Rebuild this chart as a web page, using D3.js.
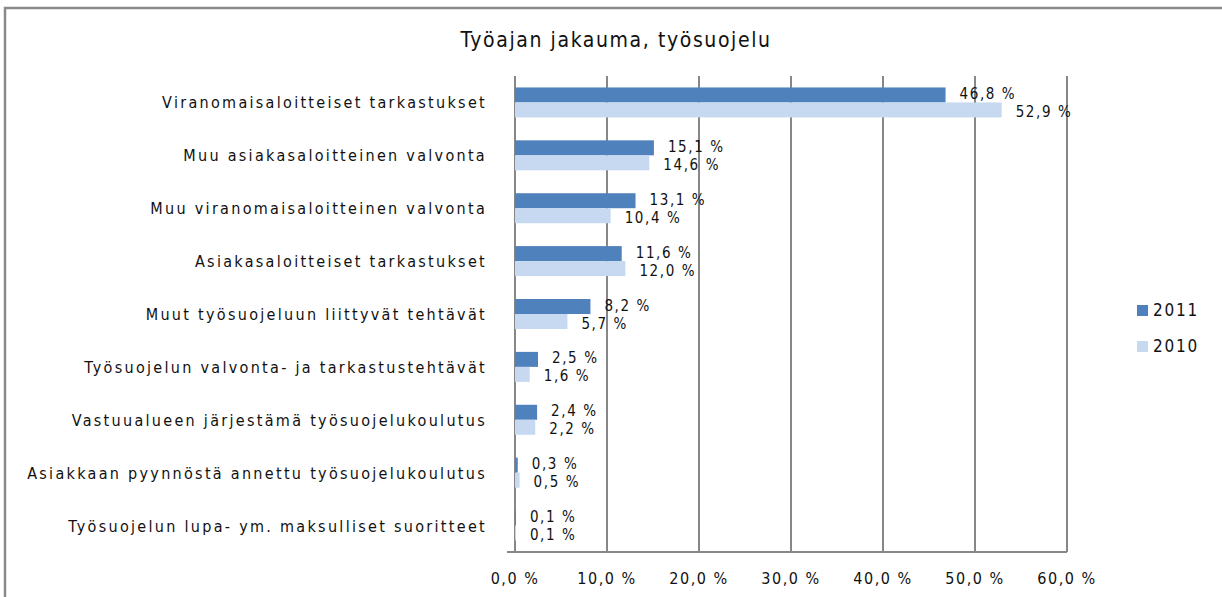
<!DOCTYPE html>
<html>
<head>
<meta charset="utf-8">
<script src="https://cdn.jsdelivr.net/npm/d3@7"></script>
<style>
  body { margin: 0; background: #fff; }
  svg text { font-family: "Liberation Sans Narrow", "DejaVu Sans Condensed", "Liberation Sans", sans-serif; fill: #111; }
</style>
</head>
<body>
<div id="chart"></div>
<script>
const categories = [
  'Viranomaisaloitteiset tarkastukset',
  'Muu asiakasaloitteinen valvonta',
  'Muu viranomaisaloitteinen valvonta',
  'Asiakasaloitteiset tarkastukset',
  'Muut työsuojeluun liittyvät tehtävät',
  'Työsuojelun valvonta- ja tarkastustehtävät',
  'Vastuualueen järjestämä työsuojelukoulutus',
  'Asiakkaan pyynnöstä annettu työsuojelukoulutus',
  'Työsuojelun lupa- ym. maksulliset suoritteet'
];
const series = ['2011', '2010'];
const values2011 = [46.8, 15.1, 13.1, 11.6, 8.2, 2.5, 2.4, 0.3, 0.1];
const values2010 = [52.9, 14.6, 10.4, 12.0, 5.7, 1.6, 2.2, 0.5, 0.1];
const xTicks = [0, 10, 20, 30, 40, 50, 60];
const colors = { '2011': '#4f81bd', '2010': '#c6d9f1' };

const width = 1222, height = 597;
const plot = { left: 515, right: 1067, top: 76, bottom: 552 };

const svg = d3.select('#chart').append('svg')
  .attr('width', width)
  .attr('height', height);

// outer chart border
svg.append('rect')
  .attr('x', 5).attr('y', 8)
  .attr('width', 1240).attr('height', 620)
  .attr('fill', 'none')
  .attr('stroke', '#8a8a8a')
  .attr('stroke-width', 2.5);

svg.append('text')
  .attr('x', 616).attr('y', 47)
  .attr('text-anchor', 'middle')
  .attr('font-size', 21)
  .attr('letter-spacing', 1.6)
  .text('Työajan jakauma, työsuojelu');

const x = d3.scaleLinear().domain([0, 60]).range([plot.left, plot.right]);
const y = d3.scaleBand().domain(categories).range([plot.top, plot.bottom]);
const groupH = 30;
const ySub = d3.scaleBand().domain(series).range([0, groupH]);

// gridlines
svg.append('g')
  .selectAll('line')
  .data(xTicks)
  .join('line')
  .attr('x1', d => x(d)).attr('x2', d => x(d))
  .attr('y1', plot.top).attr('y2', plot.bottom)
  .attr('stroke', '#878787')
  .attr('stroke-width', 2);

// bottom axis line
svg.append('line')
  .attr('x1', plot.left - 8).attr('x2', plot.right)
  .attr('y1', plot.bottom).attr('y2', plot.bottom)
  .attr('stroke', '#878787')
  .attr('stroke-width', 2);

const fmt = v => d3.format('.1f')(v).replace('.', ',') + ' %';

const rows = categories.map((c, i) => ({ cat: c, vals: { '2011': values2011[i], '2010': values2010[i] } }));

const groups = svg.append('g')
  .selectAll('g')
  .data(rows)
  .join('g')
  .attr('transform', d => `translate(0,${y(d.cat) + (y.bandwidth() - groupH) / 2})`);

groups.selectAll('rect')
  .data(d => series.map(s => ({ s, v: d.vals[s] })))
  .join('rect')
  .attr('x', x(0))
  .attr('y', d => ySub(d.s))
  .attr('width', d => x(d.v) - x(0))
  .attr('height', ySub.bandwidth())
  .attr('fill', d => colors[d.s]);

groups.selectAll('text.val')
  .data(d => series.map(s => ({ s, v: d.vals[s] })))
  .join('text')
  .attr('class', 'val')
  .attr('x', d => x(d.v) + 14)
  .attr('y', d => ySub(d.s) + ySub.bandwidth() / 2 + (d.s === '2011' ? 4 : 7))
  .attr('font-size', 15)
  .attr('letter-spacing', 1.6)
  .text(d => fmt(d.v));

// category labels
svg.append('g')
  .selectAll('text')
  .data(categories)
  .join('text')
  .attr('x', 487)
  .attr('y', d => y(d) + y.bandwidth() / 2 + 6)
  .attr('text-anchor', 'end')
  .attr('font-size', 16)
  .attr('letter-spacing', 2.3)
  .text(d => d);

// x tick labels
svg.append('g')
  .selectAll('text')
  .data(xTicks)
  .join('text')
  .attr('x', d => x(d))
  .attr('y', 584)
  .attr('text-anchor', 'middle')
  .attr('font-size', 16)
  .attr('letter-spacing', 1.5)
  .text(d => fmt(d));

// legend
const legend = svg.append('g')
  .selectAll('g')
  .data(series)
  .join('g')
  .attr('transform', (d, i) => `translate(1137,${305 + i * 36})`);

legend.append('rect')
  .attr('width', 11).attr('height', 11)
  .attr('fill', d => colors[d]);

legend.append('text')
  .attr('x', 16).attr('y', 11)
  .attr('font-size', 17)
  .attr('letter-spacing', 1.8)
  .text(d => d);
</script>
</body>
</html>
